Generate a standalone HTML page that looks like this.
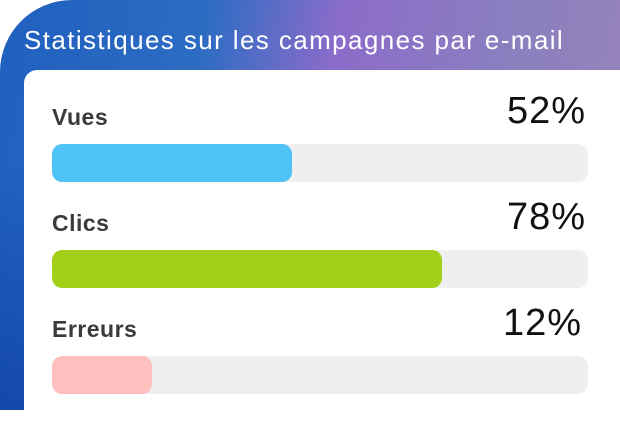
<!DOCTYPE html>
<html><head><meta charset="utf-8"><style>
body{margin:0;width:620px;height:410px;overflow:hidden;background:#fff;font-family:"Liberation Sans",sans-serif}
.bg{position:absolute;left:0;top:0;width:620px;height:410px;border-top-left-radius:72px;
background:linear-gradient(100deg,#1f5fbf 0%,#2c6cc2 30%,#8c6cca 50%,#8a7fbf 75%,#9a84b8 100%);overflow:hidden}
.bg:after{content:"";position:absolute;left:0;top:0;width:100%;height:100%;background:linear-gradient(180deg,rgba(0,0,0,0) 40%,rgba(0,40,140,.45) 100%)}
.title{position:absolute;left:24px;top:25px;color:#fff;font-size:26px;letter-spacing:1.4px;z-index:2;white-space:nowrap}
.card{position:absolute;left:24px;top:70px;width:620px;height:360px;background:#fff;border-top-left-radius:13px;z-index:2}
.lab{position:absolute;left:52px;font-size:23px;font-weight:bold;color:#3a3a3a;z-index:3;letter-spacing:0.5px}
.pct{position:absolute;font-size:38px;color:#111;z-index:3;font-weight:300;letter-spacing:1px}
.bar{position:absolute;left:52px;width:536px;height:38px;border-radius:10px;background:#efefef;z-index:3;overflow:hidden}
.bar div{height:100%;border-radius:10px}
</style></head><body>
<div class="bg"></div>
<div class="title">Statistiques sur les campagnes par e-mail</div>
<div class="card"></div>
<div class="lab" style="top:104px">Vues</div>
<div class="pct" style="left:507px;top:90px">52%</div>
<div class="bar" style="top:144px"><div style="width:240px;background:#4fc3f5"></div></div>
<div class="lab" style="top:210px">Clics</div>
<div class="pct" style="left:507px;top:196px">78%</div>
<div class="bar" style="top:250px"><div style="width:390px;background:#a2d018"></div></div>
<div class="lab" style="top:316px">Erreurs</div>
<div class="pct" style="left:503px;top:302px">12%</div>
<div class="bar" style="top:356px"><div style="width:100px;background:#ffbfbf"></div></div>
</body></html>
